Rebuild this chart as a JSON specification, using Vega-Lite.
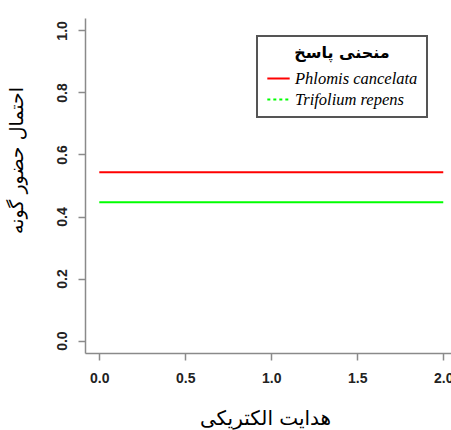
{
  "$schema": "https://vega.github.io/schema/vega-lite/v6.json",
  "autosize": {"type": "none"},
  "padding": {"left": 85, "top": 18, "right": 0, "bottom": 77},
  "width": 366,
  "height": 335,
  "background": "white",
  "config": {
    "view": {"stroke": null},
    "axis": {
      "grid": false,
      "domainColor": "#8a8a8a",
      "domainWidth": 1.5,
      "tickColor": "#8a8a8a",
      "tickWidth": 1.5,
      "tickSize": 7,
      "labelFont": "Liberation Sans",
      "labelFontWeight": "bold",
      "labelFontSize": 14,
      "labelColor": "#222222",
      "titleFont": "DejaVu Sans",
      "titleFontSize": 19,
      "titleFontWeight": "normal",
      "titleColor": "#000000"
    },
    "legend": {
      "strokeColor": "#555555",
      "strokeWidth": 2,
      "fillColor": "white",
      "padding": 9,
      "titleFont": "DejaVu Sans",
      "titleFontSize": 16,
      "titleFontWeight": "bold",
      "titleColor": "#000000",
      "titleAnchor": "middle",
      "titlePadding": 5,
      "labelFont": "Liberation Serif",
      "labelFontStyle": "italic",
      "labelFontSize": 16.5,
      "labelColor": "#000000",
      "labelLimit": 300,
      "symbolType": "stroke",
      "symbolSize": 500,
      "symbolStrokeWidth": 2,
      "rowPadding": 0
    }
  },
  "data": {
    "values": [
      {"x": 0, "p": 0.543, "species": "Phlomis cancelata"},
      {"x": 2, "p": 0.543, "species": "Phlomis cancelata"},
      {"x": 0, "p": 0.446, "species": "Trifolium repens"},
      {"x": 2, "p": 0.446, "species": "Trifolium repens"}
    ]
  },
  "encoding": {
    "x": {
      "field": "x",
      "type": "quantitative",
      "scale": {"domain": [-0.083, 2.045], "nice": false, "zero": false},
      "axis": {
        "values": [0, 0.5, 1, 1.5, 2],
        "format": ".1f",
        "labelPadding": 11,
        "title": "هدایت الکتریکی",
        "titleFontSize": 20,
        "titleY": 65,
        "titleBaseline": "middle",
        "titleX": 180,
        "titleAnchor": null
      }
    },
    "y": {
      "field": "p",
      "type": "quantitative",
      "scale": {"domain": [-0.04, 1.04], "nice": false, "zero": false},
      "axis": {
        "values": [0, 0.2, 0.4, 0.6, 0.8, 1],
        "format": ".1f",
        "labelAngle": 270,
        "labelAlign": "center",
        "labelBaseline": "alphabetic",
        "labelPadding": 12,
        "title": "احتمال حضور گونه",
        "titleAngle": 270,
        "titleAlign": "center",
        "titleBaseline": "middle",
        "titleX": -69,
        "titleY": 142
      }
    }
  },
  "layer": [
    {
      "mark": {"type": "line", "strokeWidth": 2, "strokeOpacity": 0},
      "encoding": {
        "color": {
          "field": "species",
          "type": "nominal",
          "scale": {"domain": ["Phlomis cancelata", "Trifolium repens"], "range": ["#ff0000", "#00ff00"]},
          "legend": {"title": "منحنی پاسخ", "orient": "none", "legendX": 172, "legendY": 18}
        },
        "strokeDash": {
          "field": "species",
          "type": "nominal",
          "scale": {"domain": ["Phlomis cancelata", "Trifolium repens"], "range": [[1, 0], [3, 3]]},
          "legend": {"title": "منحنی پاسخ", "orient": "none", "legendX": 172, "legendY": 18}
        }
      }
    },
    {
      "mark": {"type": "line", "strokeWidth": 2},
      "encoding": {
        "color": {
          "field": "species",
          "type": "nominal",
          "legend": {"title": "منحنی پاسخ", "orient": "none", "legendX": 172, "legendY": 18}
        }
      }
    }
  ]
}
